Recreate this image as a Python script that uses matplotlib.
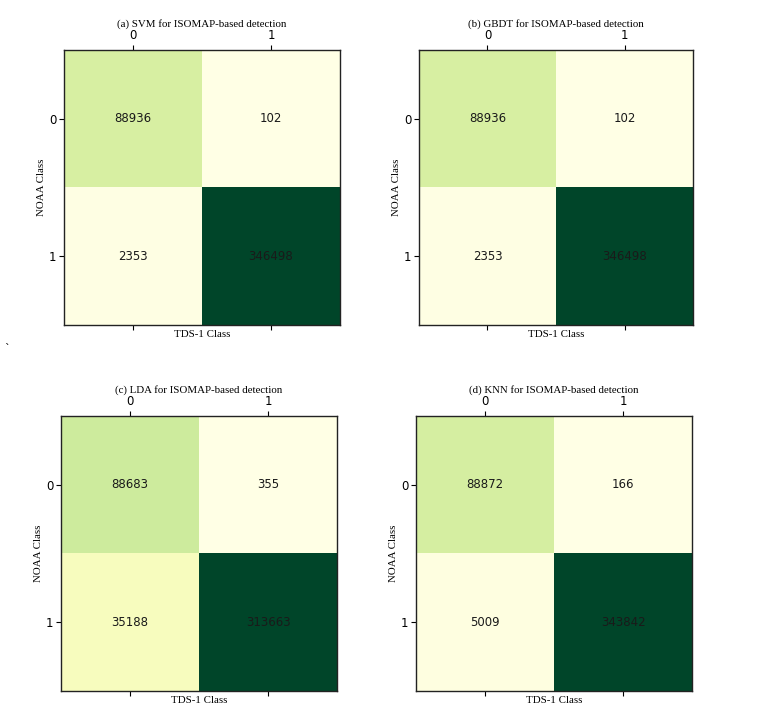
import numpy as np
import matplotlib
matplotlib.use("Agg")
import matplotlib.pyplot as plt

titles = ["(a) SVM for ISOMAP-based detection",
          "(b) GBDT for ISOMAP-based detection",
          "(c) LDA for ISOMAP-based detection",
          "(d) KNN for ISOMAP-based detection"]
svm = [[88936, 102], [2353, 346498]]
gbdt = [[88936, 102], [2353, 346498]]
lda = [[88683, 355], [35188, 313663]]
knn = [[88872, 166], [5009, 343842]]
matrices = [svm, gbdt, lda, knn]
class_labels = ["0", "1"]
xlabel = "TDS-1 Class"
ylabel = "NOAA Class"

W, H = 759, 720
fig = plt.figure(figsize=(W / 100, H / 100), dpi=100)

# axes boxes in pixels: left, top, right, bottom
boxes = [(64, 50, 340, 325), (419, 50, 693, 325),
         (61, 416, 337, 691), (416, 416, 692, 691)]

serif = ["Liberation Serif", "DejaVu Serif"]
for m, t, (l, tp, r, b) in zip(matrices, titles, boxes):
    ax = fig.add_axes([l / W, 1 - b / H, (r - l) / W, (b - tp) / H])
    arr = np.array(m)
    ax.matshow(arr, cmap="YlGn", aspect="auto")
    for i in range(arr.shape[0]):
        for j in range(arr.shape[1]):
            ax.text(j, i, str(arr[i, j]), ha="center", va="center",
                    fontsize=8.5, color="#1a1a1a")
    ax.set_xticks(range(len(class_labels)))
    ax.set_yticks(range(len(class_labels)))
    ax.set_xticklabels(class_labels, fontsize=8.5)
    ax.set_yticklabels(class_labels, fontsize=8.5)
    ax.tick_params(axis="x", top=True, bottom=True, labeltop=True,
                   labelbottom=False, pad=2, length=3.5)
    ax.tick_params(axis="y", pad=2, length=3.5)
    ax.set_title(t, fontsize=7.8, family=serif, pad=2)
    ax.set_xlabel(xlabel, fontsize=7.8, family=serif, labelpad=0)
    ax.xaxis.set_label_position("bottom")
    ax.set_ylabel(ylabel, fontsize=7.8, family=serif, labelpad=2)
    for s in ax.spines.values():
        s.set_linewidth(1.0)
        s.set_color("#222222")

fig.text(7 / W, 1 - 349 / H, "`", fontsize=8, ha="center", va="center")

fig.savefig("out.png", dpi=100)
